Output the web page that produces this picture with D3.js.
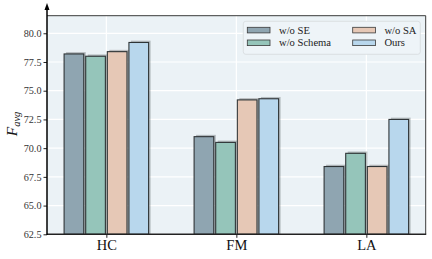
<!DOCTYPE html>
<html>
<head>
<meta charset="utf-8">
<script src="https://cdn.jsdelivr.net/npm/d3@7"></script>
<style>
	body { margin: 0; background: #fff; }
	svg { display: block; font-family: "Liberation Serif", "DejaVu Serif", serif; }
</style>
</head>
<body>
<div id="chart"></div>
<script>
///////////////////////////////////////////////////////////////////////////
//////////////////////////// data /////////////////////////////////////////
///////////////////////////////////////////////////////////////////////////

const groups = ["HC", "FM", "LA"];
const series = ["w/o SE", "w/o Schema", "w/o SA", "Ours"];
const colors = ["#8fa5b1", "#95c5ba", "#e6c8b6", "#b8d7ed"];
// one row per series, values in group order
const valuesWoSE = [78.2, 71.0, 68.4];
const valuesWoSchema = [78.0, 70.5, 69.55];
const valuesWoSA = [78.4, 74.2, 68.4];
const valuesOurs = [79.2, 74.3, 72.5];
const yTicks = [62.5, 65.0, 67.5, 70.0, 72.5, 75.0, 77.5, 80.0];

const seriesValues = [valuesWoSE, valuesWoSchema, valuesWoSA, valuesOurs];

///////////////////////////////////////////////////////////////////////////
//////////////////////////// set up svg ///////////////////////////////////
///////////////////////////////////////////////////////////////////////////

const width = 432;
const height = 259;
const margin = { top: 15.7, right: 6.3, bottom: 24.7, left: 47 };
const svg = d3
	.select("#chart")
	.append("svg")
	.attr("width", width)
	.attr("height", height);

///////////////////////////////////////////////////////////////////////////
//////////////////////////// scales ///////////////////////////////////////
///////////////////////////////////////////////////////////////////////////

const xScale = d3
	.scalePoint()
	.domain(groups)
	.range([margin.left, width - margin.right])
	.padding(0.4565);

const step = xScale.step();
// bars inside a group
const xInner = d3
	.scaleBand()
	.domain(series)
	.range([-0.325 * step, 0.325 * step])
	.paddingInner(0.09);

const yScale = d3
	.scaleLinear()
	.domain([62.5, 81.53])
	.range([height - margin.bottom, margin.top]);

const colorScale = d3.scaleOrdinal().domain(series).range(colors);

///////////////////////////////////////////////////////////////////////////
//////////////////////////// background + grid ////////////////////////////
///////////////////////////////////////////////////////////////////////////

svg
	.append("rect")
	.attr("x", margin.left)
	.attr("y", margin.top)
	.attr("width", width - margin.right - margin.left)
	.attr("height", height - margin.bottom - margin.top)
	.attr("fill", "#ebf2f6");

svg
	.append("g")
	.selectAll("line")
	.data(yTicks)
	.join("line")
	.attr("x1", margin.left)
	.attr("x2", width - margin.right)
	.attr("y1", (d) => yScale(d))
	.attr("y2", (d) => yScale(d))
	.attr("stroke", "#fff")
	.attr("stroke-width", 1.2);

svg
	.append("g")
	.selectAll("line")
	.data(groups)
	.join("line")
	.attr("x1", (d) => xScale(d))
	.attr("x2", (d) => xScale(d))
	.attr("y1", margin.top)
	.attr("y2", height - margin.bottom)
	.attr("stroke", "#fff")
	.attr("stroke-width", 1.2);

///////////////////////////////////////////////////////////////////////////
//////////////////////////// bars /////////////////////////////////////////
///////////////////////////////////////////////////////////////////////////

const barData = [];
series.forEach((s, i) => {
	groups.forEach((g, j) => {
		barData.push({ series: s, group: g, value: seriesValues[i][j] });
	});
});

const barGroup = svg.append("g");

// draw shadow then bar, series by series (like patheffects)
barData.forEach((d) => {
	const x = xScale(d.group) + xInner(d.series);
	const y = yScale(d.value);
	const h = yScale(62.5) - y;
	const c = d3.rgb(colorScale(d.series));
	barGroup
		.append("rect")
		.attr("x", x + 2)
		.attr("y", y - 1.8)
		.attr("width", xInner.bandwidth())
		.attr("height", h + 1.8)
		.attr("fill", d3.rgb(c.r * 0.3, c.g * 0.3, c.b * 0.3))
		.attr("fill-opacity", 0.3);
	barGroup
		.append("rect")
		.attr("x", x)
		.attr("y", y)
		.attr("width", xInner.bandwidth())
		.attr("height", h)
		.attr("fill", c)
		.attr("stroke", "#2e3436")
		.attr("stroke-width", 1.1);
});

///////////////////////////////////////////////////////////////////////////
//////////////////////////// axes /////////////////////////////////////////
///////////////////////////////////////////////////////////////////////////

// frame top + right
svg
	.append("path")
	.attr(
		"d",
		`M${margin.left},${margin.top}H${width - margin.right}V${height - margin.bottom}`
	)
	.attr("fill", "none")
	.attr("stroke", "#3a3a3a")
	.attr("stroke-width", 1);

const xAxis = d3.axisBottom(xScale).tickSize(3.5).tickPadding(2);
const gx = svg
	.append("g")
	.attr("transform", `translate(0,${height - margin.bottom})`)
	.call(xAxis);
gx.select(".domain").remove();
gx.selectAll("text")
	.attr("font-size", 14.5)
	.attr("font-family", "Liberation Serif")
	.attr("fill", "#111");
gx.selectAll("line").attr("stroke", "#222");

svg
	.append("line")
	.attr("x1", margin.left)
	.attr("x2", width - margin.right + 0.5)
	.attr("y1", height - margin.bottom)
	.attr("y2", height - margin.bottom)
	.attr("stroke", "#222")
	.attr("stroke-width", 1.5);

const yAxis = d3
	.axisLeft(yScale)
	.tickValues(yTicks)
	.tickFormat(d3.format(".1f"))
	.tickSize(3.5)
	.tickPadding(2);
const gy = svg
	.append("g")
	.attr("transform", `translate(${margin.left},0)`)
	.call(yAxis);
gy.select(".domain").remove();
gy.selectAll("text")
	.attr("font-size", 10.2)
	.attr("font-family", "Liberation Serif")
	.attr("fill", "#333");
gy.selectAll("line").attr("stroke", "#222");

// left spine with arrow
svg
	.append("line")
	.attr("x1", margin.left)
	.attr("x2", margin.left)
	.attr("y1", height - margin.bottom + 0.7)
	.attr("y2", 6)
	.attr("stroke", "#000")
	.attr("stroke-width", 1.5);
svg
	.append("path")
	.attr("d", `M${margin.left},3L${margin.left - 2.5},10L${margin.left + 2.5},10Z`)
	.attr("fill", "#000");

// y label F_avg
const yLabel = svg
	.append("text")
	.attr("transform", `translate(16.5,${(margin.top + height - margin.bottom) / 2 - 1}) rotate(-90)`)
	.attr("text-anchor", "middle")
	.attr("font-family", "Liberation Serif")
	.attr("font-style", "italic")
	.attr("fill", "#111");
yLabel.append("tspan").attr("font-size", 15.5).text("F");
yLabel
	.append("tspan")
	.attr("font-size", 10.5)
	.attr("dy", 3)
	.text("avg");

///////////////////////////////////////////////////////////////////////////
//////////////////////////// legend ///////////////////////////////////////
///////////////////////////////////////////////////////////////////////////

const legendBox = { x: 243.3, y: 21.3, w: 177, h: 33 };
svg
	.append("rect")
	.attr("x", legendBox.x)
	.attr("y", legendBox.y)
	.attr("width", legendBox.w)
	.attr("height", legendBox.h)
	.attr("rx", 2.5)
	.attr("fill", "#eef4f8")
	.attr("stroke", "#d5dadd")
	.attr("stroke-width", 0.8);

const legend = svg
	.selectAll(".legend")
	.data(series)
	.enter()
	.append("g")
	.attr("class", "legend")
	.attr("transform", function (d, i) {
		const col = Math.floor(i / 2);
		const row = i % 2;
		return "translate(" + (legendBox.x + 4 + col * 105.4) + "," + (legendBox.y + 6 + row * 12.7) + ")";
	});

legend
	.append("rect")
	.attr("x", 0)
	.attr("y", 0)
	.attr("width", 22.7)
	.attr("height", 5.6)
	.attr("fill", colorScale)
	.attr("stroke", "#3a3a3a")
	.attr("stroke-width", 0.8);

legend
	.append("text")
	.attr("x", 31.7)
	.attr("y", 6.2)
	.attr("font-size", 10.6)
	.attr("fill", "#222")
	.text((d) => d);
</script>
</body>
</html>
